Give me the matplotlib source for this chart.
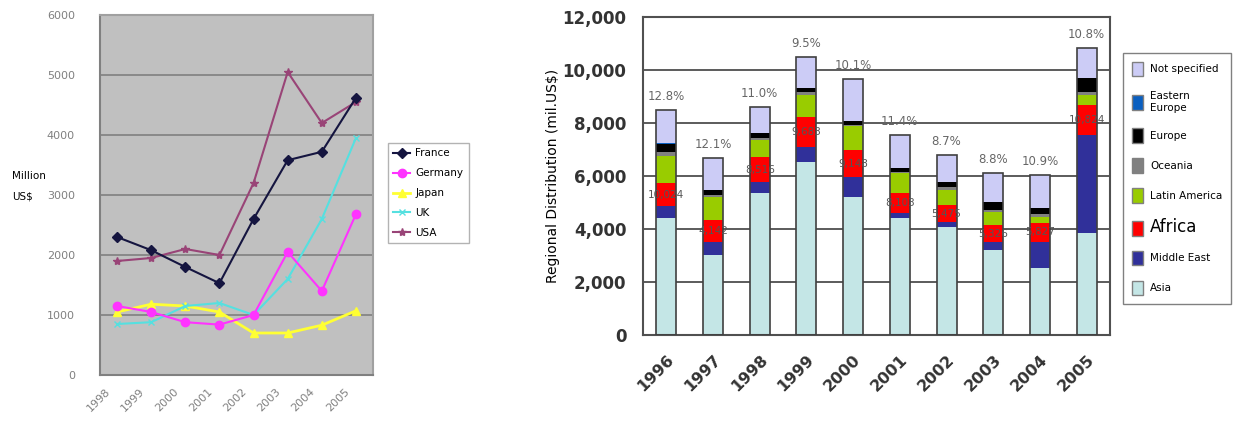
import numpy as np
import matplotlib.pyplot as plt
from matplotlib.patches import Patch

# left chart: investment by country (million US$)
years_l = ['1998', '1999', '2000', '2001', '2002', '2003', '2004', '2005']
france = [2300, 2080, 1800, 1530, 2600, 3580, 3720, 4620]
germany = [1150, 1050, 880, 840, 1000, 2050, 1400, 2680]
japan = [1050, 1180, 1150, 1050, 700, 700, 830, 1070]
uk = [850, 880, 1150, 1200, 1000, 1600, 2600, 3950]
usa = [1900, 1950, 2100, 2000, 3200, 5050, 4200, 4550]

# right chart: regional distribution (mil. US$)
years_r = ['1996', '1997', '1998', '1999', '2000', '2001', '2002', '2003', '2004', '2005']
asia = [4400, 3020, 5360, 6530, 5210, 4420, 4080, 3210, 2530, 3850]
middle_east = [450, 490, 410, 560, 750, 180, 180, 300, 980, 3700]
africa = [900, 830, 950, 1140, 1020, 760, 640, 640, 720, 1130]
latin_america = [1000, 870, 640, 830, 900, 740, 570, 490, 220, 380]
oceania = [150, 60, 60, 100, 50, 50, 110, 80, 100, 100]
europe = [300, 200, 200, 160, 150, 140, 190, 300, 240, 540]
eastern_europe = [50, 0, 0, 0, 0, 0, 0, 0, 0, 0]
not_specified = [1250, 1210, 980, 1170, 1590, 1260, 1020, 1090, 1250, 1130]
pct_labels = ['12.8%', '12.1%', '11.0%', '9.5%', '10.1%', '11.4%', '8.7%', '8.8%', '10.9%', '10.8%']
inner_labels = ['10,024', '4,142', '8,516', '9,683', '9,148', '8,103', '5,475', '5,326', '5,827', '10,824']

fig = plt.figure(figsize=(12.33, 4.29), dpi=100)

# ---- left: line chart
ax1 = fig.add_axes([100/1233, 54/429, 273/1233, 360/429])
ax1.set_facecolor('#c0c0c0')
x = np.arange(len(years_l))
ax1.plot(x, france, color='#151540', marker='D', ms=5, lw=1.5, label='France', zorder=5)
ax1.plot(x, germany, color='#ff33ff', marker='o', ms=6, lw=1.5, label='Germany', zorder=4)
ax1.plot(x, japan, color='#ffff33', marker='^', ms=6, lw=2, label='Japan', zorder=3)
ax1.plot(x, uk, color='#55e0e0', marker='x', ms=5, lw=1.5, label='UK', zorder=3)
ax1.plot(x, usa, color='#994477', marker='*', ms=6, lw=1.5, label='USA', zorder=4)
ax1.set_xlim(-0.5, 7.5)
ax1.set_ylim(0, 6000)
ax1.set_yticks(range(0, 6001, 1000))
ax1.yaxis.grid(True, color='#808080', lw=1.2)
ax1.set_axisbelow(True)
ax1.set_xticks(x - 0.35)
ax1.set_xticklabels(years_l, rotation=45, ha='right', rotation_mode='anchor')
ax1.tick_params(length=0, labelsize=8, labelcolor='#808080')
ax1.tick_params(axis='y', pad=18)
ax1.tick_params(axis='x', pad=8)
for s in ax1.spines.values():
    s.set_color('#a0a0a0')
    s.set_linewidth(1.5)
ax1.spines['left'].set_color('#808080')
ax1.spines['bottom'].set_color('#808080')
fig.text(12/1233, 1 - 176/429, 'Million', fontsize=7.5, va='center')
fig.text(12/1233, 1 - 196/429, 'US$', fontsize=7.5, va='center')
leg1 = ax1.legend(loc='upper left', bbox_to_anchor=(383/1233, 1 - 138/429),
                  bbox_transform=fig.transFigure, fontsize=7.5, frameon=True,
                  fancybox=False, edgecolor='#a0a0a0', handlelength=1.6,
                  handletextpad=0.5, labelspacing=0.95, borderpad=0.5)

# ---- right: stacked bars
ax2 = fig.add_axes([643/1233, 94/429, 467/1233, 318/429])
xr = np.arange(len(years_r))
segments = [
    (asia, '#c4e6e6', 'Asia'),
    (middle_east, '#30309a', 'Middle East'),
    (africa, '#ff0000', 'Africa'),
    (latin_america, '#99cc00', 'Latin America'),
    (oceania, '#808080', 'Oceania'),
    (europe, '#000000', 'Europe'),
    (eastern_europe, '#0a5fc0', 'Eastern\nEurope'),
    (not_specified, '#ccccf6', 'Not specified'),
]
w = 0.43
bottom = np.zeros(len(years_r))
for vals, col, name in segments:
    ax2.bar(xr, vals, w, bottom=bottom, color=col, lw=0, zorder=2)
    bottom += np.array(vals)
ax2.bar(xr, bottom, w, facecolor='none', edgecolor='#404040', lw=1.2, zorder=3)

africa_mid = np.array(asia) + np.array(middle_east) + np.array(africa) / 2
for i in xr:
    ax2.text(i, bottom[i] + 250, pct_labels[i], ha='center', va='bottom',
             fontsize=8.5, color='#666666')
    ax2.text(i, africa_mid[i], inner_labels[i], ha='center', va='center',
             fontsize=7.5, color='#555555', zorder=4)

ax2.set_xlim(-0.5, 9.5)
ax2.set_ylim(0, 12000)
ax2.set_yticks(range(0, 12001, 2000))
ax2.set_yticklabels([f'{v:,}' for v in range(0, 12001, 2000)])
ax2.yaxis.grid(True, color='#404040', lw=1.2)
ax2.set_axisbelow(True)
ax2.set_xticks(xr)
ax2.set_xticklabels(years_r, rotation=45, ha='right', rotation_mode='anchor')
ax2.tick_params(axis='y', length=0, labelsize=12, labelcolor='#333333', pad=12)
ax2.tick_params(axis='x', length=0, labelsize=11.5, labelcolor='#333333', pad=12)
for t in ax2.get_xticklabels() + ax2.get_yticklabels():
    t.set_fontweight('bold')
for s in ax2.spines.values():
    s.set_color('#505050')
    s.set_linewidth(1.5)
ax2.set_ylabel('Regional Distribution (mil.US$)', fontsize=10, labelpad=2)

handles = [Patch(facecolor=c, edgecolor='#808080', label=n) for _, c, n in segments][::-1]
leg2 = fig.legend(handles=handles, loc='upper left', bbox_to_anchor=(1118/1233, 1 - 48/429),
                  fontsize=7.5, frameon=True, fancybox=False, edgecolor='#606060',
                  handlelength=1.1, handleheight=1.8, labelspacing=1.45, borderpad=0.8,
                  handletextpad=0.7)
leg2.get_texts()[5].set_fontsize(12)

fig.savefig('out.png', dpi=100)
